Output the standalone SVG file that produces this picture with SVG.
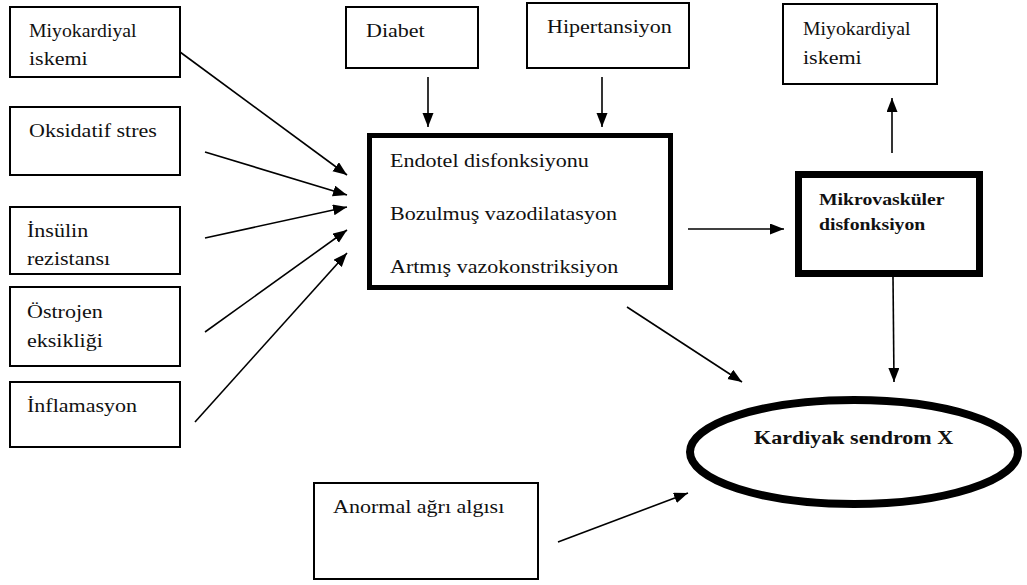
<svg xmlns="http://www.w3.org/2000/svg" width="1027" height="585" viewBox="0 0 1027 585">
<style>
.box{fill:#fff;stroke:#000;stroke-width:2}
.thick{fill:#fff;stroke:#000;stroke-width:5}
.thicker{fill:#fff;stroke:#000;stroke-width:7}
.t{font-family:"Liberation Serif","Times New Roman",serif;font-size:19px;fill:#111}
.b{font-family:"Liberation Serif","Times New Roman",serif;font-size:19px;font-weight:bold;fill:#111}
.b17{font-family:"Liberation Serif","Times New Roman",serif;font-size:17px;font-weight:bold;fill:#111}
.c{stroke:#000;stroke-width:1.6;fill:none;marker-end:url(#ah)}
</style>
<defs>
<marker id="ah" markerWidth="15" markerHeight="12" refX="14" refY="5.5" orient="auto" markerUnits="userSpaceOnUse">
<path d="M0,0 L14,5.5 L0,11 z" fill="#000"/>
</marker>
</defs>
<rect width="1027" height="585" fill="#fff"/>

<g id="n-miyo-left">
<rect class="box" x="10" y="7" width="170" height="70"/>
<text class="t" transform="translate(29,37) scale(1.04,1)">Miyokardiyal</text>
<text class="t" transform="translate(29,65) scale(1.16,1)">iskemi</text>
</g>
<g id="n-oksidatif">
<rect class="box" x="10" y="107" width="170" height="68"/>
<text class="t" transform="translate(29,137) scale(1.16,1)">Oksidatif stres</text>
</g>
<g id="n-insulin">
<rect class="box" x="10" y="207" width="170" height="67"/>
<text class="t" transform="translate(27,237) scale(1.16,1)">İnsülin</text>
<text class="t" transform="translate(27,265) scale(1.16,1)">rezistansı</text>
</g>
<g id="n-ostrojen">
<rect class="box" x="10" y="287" width="170" height="79"/>
<text class="t" transform="translate(27,318) scale(1.16,1)">Östrojen</text>
<text class="t" transform="translate(27,347) scale(1.16,1)">eksikliği</text>
</g>
<g id="n-inflamasyon">
<rect class="box" x="10" y="382" width="170" height="65"/>
<text class="t" transform="translate(27,412) scale(1.16,1)">İnflamasyon</text>
</g>
<g id="n-diabet">
<rect class="box" x="346" y="7" width="132" height="61"/>
<text class="t" transform="translate(366,37) scale(1.16,1)">Diabet</text>
</g>
<g id="n-hipertansiyon">
<rect class="box" x="527" y="3" width="162" height="65"/>
<text class="t" transform="translate(547,33) scale(1.16,1)">Hipertansiyon</text>
</g>
<g id="n-endotel">
<rect class="thick" x="369.5" y="135.5" width="301" height="152"/>
<text class="t" transform="translate(390,167) scale(1.16,1)">Endotel disfonksiyonu</text>
<text class="t" transform="translate(390,220) scale(1.16,1)">Bozulmuş vazodilatasyon</text>
<text class="t" transform="translate(390,273) scale(1.16,1)">Artmış vazokonstriksiyon</text>
</g>
<g id="n-miyo-right">
<rect class="box" x="783" y="4" width="154" height="80"/>
<text class="t" transform="translate(803,35) scale(1.04,1)">Miyokardiyal</text>
<text class="t" transform="translate(803,64) scale(1.16,1)">iskemi</text>
</g>
<g id="n-mikro">
<rect class="thicker" x="798.5" y="174.5" width="181" height="99"/>
<text class="b17" transform="translate(819,205) scale(1.16,1)">Mikrovasküler</text>
<text class="b17" transform="translate(819,230) scale(1.16,1)">disfonksiyon</text>
</g>
<g id="n-kardiyak">
<ellipse cx="854" cy="452" rx="164" ry="52" fill="#fff" stroke="#000" stroke-width="8"/>
<text class="b" transform="translate(754,444) scale(1.16,1)">Kardiyak sendrom X</text>
</g>
<g id="n-anormal">
<rect class="box" x="314" y="483" width="224" height="96"/>
<text class="t" transform="translate(333,513) scale(1.16,1)">Anormal ağrı algısı</text>
</g>

<g id="connectors">
<line class="c" x1="180" y1="52" x2="347" y2="175"/>
<line class="c" x1="205" y1="152" x2="347" y2="195"/>
<line class="c" x1="205" y1="238" x2="347" y2="207"/>
<line class="c" x1="205" y1="332" x2="347" y2="230"/>
<line class="c" x1="195" y1="422" x2="347" y2="253"/>
<line class="c" x1="428" y1="77" x2="428" y2="127"/>
<line class="c" x1="602" y1="77" x2="602" y2="127"/>
<line class="c" x1="688" y1="229" x2="784" y2="229"/>
<line class="c" x1="892" y1="153" x2="892" y2="98"/>
<line class="c" x1="893" y1="277" x2="894" y2="382"/>
<line class="c" x1="627" y1="307" x2="742" y2="382"/>
<line class="c" x1="558" y1="542" x2="688" y2="493"/>
</g>
</svg>
